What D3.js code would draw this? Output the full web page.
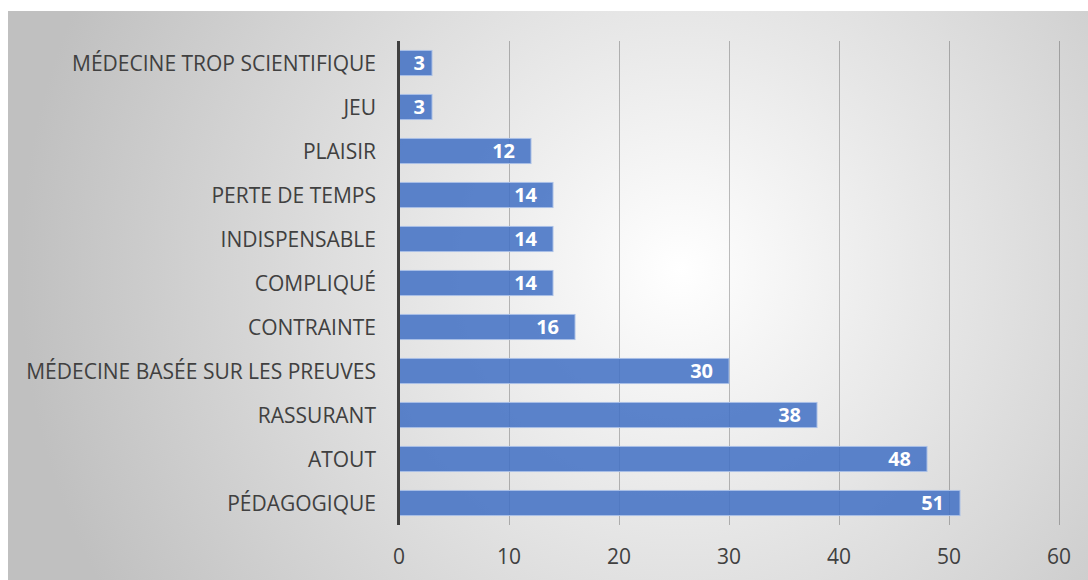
<!DOCTYPE html>
<html>
<head>
<meta charset="utf-8">
<script src="https://cdn.jsdelivr.net/npm/d3@7"></script>
<style>
  body { margin: 0; background: #fff; }
  text { font-family: "Open Sans", sans-serif; }
</style>
</head>
<body>
<svg id="drawing-area"></svg>
<script>
// chart size, same as the window
var width = 1088;
var height = 580;

var categories = ["MÉDECINE TROP SCIENTIFIQUE", "JEU", "PLAISIR", "PERTE DE TEMPS",
  "INDISPENSABLE", "COMPLIQUÉ", "CONTRAINTE", "MÉDECINE BASÉE SUR LES PREUVES",
  "RASSURANT", "ATOUT", "PÉDAGOGIQUE"];
var values = [3, 3, 12, 14, 14, 14, 16, 30, 38, 48, 51];
var ticks = [0, 10, 20, 30, 40, 50, 60];

var svg = d3.select("#drawing-area")
    .attr("width", width)
    .attr("height", height);

// grey-to-white radial background
var grad = svg.append("defs").append("radialGradient")
    .attr("id", "bg")
    .attr("gradientUnits", "userSpaceOnUse")
    .attr("cx", 680).attr("cy", 270).attr("r", 660);
grad.append("stop").attr("offset", "0%").attr("stop-color", "#ffffff");
grad.append("stop").attr("offset", "100%").attr("stop-color", "#c0c0c0");

svg.append("rect")
    .attr("x", 8).attr("y", 11)
    .attr("width", width - 8).attr("height", height - 11)
    .attr("fill", "url(#bg)");

var x = d3.scaleLinear().domain([0, 60]).range([399, 1059]);
var y = d3.scaleBand().domain(categories).range([41, 525])
    .paddingInner(0.43).paddingOuter(0.215);

// vertical grid lines
svg.append("g").selectAll("line")
  .data(ticks.slice(1))
  .enter()
  .append("line")
  .attr("x1", function(d){ return x(d) + 0.5; })
  .attr("x2", function(d){ return x(d) + 0.5; })
  .attr("y1", 41).attr("y2", 525)
  .attr("stroke", "#000")
  .attr("stroke-opacity", 0.25)
  .attr("stroke-width", 1);

// x tick labels
svg.append("g").selectAll("text")
  .data(ticks)
  .enter()
  .append("text")
  .text(function(d){ return d; })
  .attr("x", function(d){ return x(d); })
  .attr("y", 564)
  .style("text-anchor", "middle")
  .style("font-size", "21px")
  .attr("fill", "#404040");

// bars
svg.append("g").selectAll("rect")
  .data(values)
  .enter()
  .append("rect")
  .attr("x", x(0))
  .attr("y", function(d, i){ return y(categories[i]); })
  .attr("width", function(d){ return x(d) - x(0); })
  .attr("height", y.bandwidth())
  .attr("fill", "#4472c4")
  .attr("fill-opacity", 0.87)
  .attr("stroke", "#a9bfe6")
  .attr("stroke-width", 1);

// value labels inside the bar end
svg.append("g").selectAll("text")
  .data(values)
  .enter()
  .append("text")
  .text(function(d){ return d; })
  .attr("x", function(d){ return Math.max(x(d) - 16, x(0) + 26); })
  .attr("y", function(d, i){ return y(categories[i]) + y.bandwidth() / 2; })
  .attr("dy", "0.36em")
  .style("text-anchor", "end")
  .style("font-size", "20px")
  .style("font-weight", "bold")
  .attr("fill", "#fff");

// category labels
svg.append("g").selectAll("text")
  .data(categories)
  .enter()
  .append("text")
  .text(function(d){ return d; })
  .attr("x", 376)
  .attr("y", function(d){ return y(d) + y.bandwidth() / 2; })
  .attr("dy", "0.36em")
  .style("text-anchor", "end")
  .style("font-size", "21px")
  .attr("fill", "#404040");

// value axis line
svg.append("line")
  .attr("x1", 398.5).attr("x2", 398.5)
  .attr("y1", 41).attr("y2", 525)
  .attr("stroke", "#404040")
  .attr("stroke-width", 3);
</script>
</body>
</html>
